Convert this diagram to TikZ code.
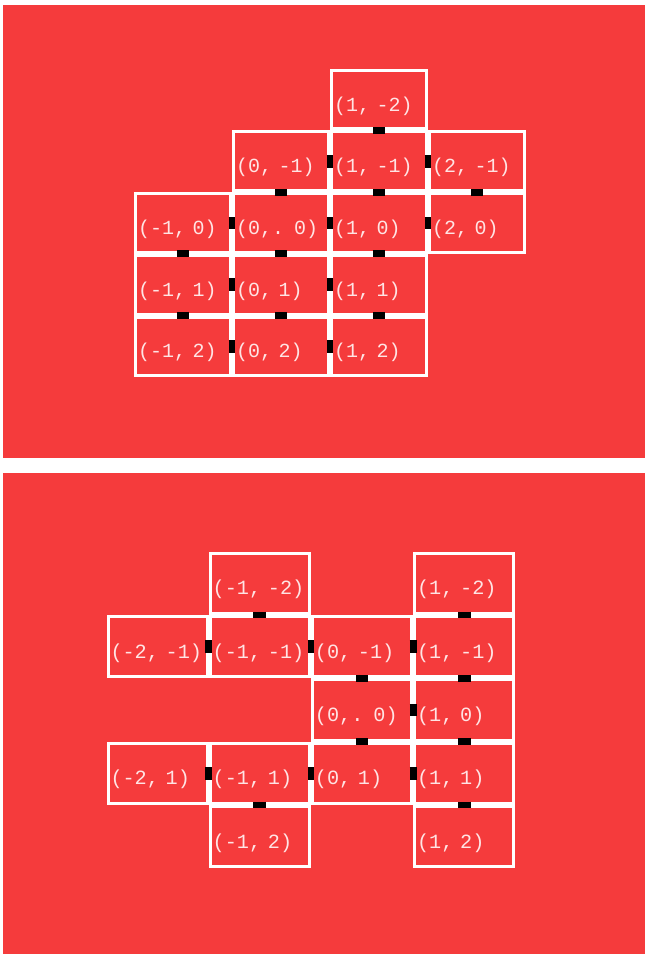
\documentclass[tikz,border=0pt]{standalone}
\usepackage{fontspec}
\newfontfamily\roomfont{Liberation Mono}
\definecolor{fondok}{RGB}{245, 59, 60}
\definecolor{textok}{RGB}{255, 228, 228}
\usetikzlibrary{positioning}

\begin{document}
\begin{tikzpicture}[x=1pt,y=-1pt,
    room/.style={draw=white,line width=3pt,outer sep=0pt,inner xsep=2.5pt,inner ysep=0pt,
                 text width=90pt,minimum height=58.7pt,align=left,text=textok,
                 font=\fontsize{20}{22}\roomfont,text height=23pt,text depth=0pt},
    door/.style={draw=black,line width=12.7pt,shorten <=-1.9pt,shorten >=-1.9pt}]
    \useasboundingbox (0,0) rectangle (645,954);
    \fill[fondok] (2.5,5) rectangle (645,457.5);
    \fill[fondok] (2.5,472.7) rectangle (645,954);

    % first map
    \begin{scope}[shift={(281,223)},x=98pt,y=-61.7pt]
      \foreach \i/\j/\txt in {1/-2/{(1, -2)}, 0/-1/{(0, -1)}, 1/-1/{(1, -1)}, 2/-1/{(2, -1)},
                             -1/0/{(-1, 0)}, 0/0/{(0,. 0)}, 1/0/{(1, 0)}, 2/0/{(2, 0)},
                             -1/1/{(-1, 1)}, 0/1/{(0, 1)}, 1/1/{(1, 1)},
                             -1/2/{(-1, 2)}, 0/2/{(0, 2)}, 1/2/{(1, 2)}}
        \node[room] (a\i r\j) at (\i,\j) {\txt};
      \foreach \a/\b in {0r-1/1r-1, 1r-1/2r-1, -1r0/0r0, 0r0/1r0, 1r0/2r0,
                         -1r1/0r1, 0r1/1r1, -1r2/0r2, 0r2/1r2,
                         1r-2/1r-1, 0r-1/0r0, 1r-1/1r0, 2r-1/2r0, -1r0/-1r1,
                         0r0/0r1, 1r0/1r1, -1r1/-1r2, 0r1/0r2, 1r1/1r2}
        \draw[door] (a\a) -- (a\b);
    \end{scope}

    % second map
    \begin{scope}[shift={(362,710)},x=102.2pt,y=-63.3pt,
                  room/.append style={text width=94.2pt,minimum height=60.3pt,
                                      font=\fontsize{20.2}{22}\roomfont}]
      \foreach \i/\j/\txt in {-1/-2/{(-1, -2)}, 1/-2/{(1, -2)},
                             -2/-1/{(-2, -1)}, -1/-1/{(-1, -1)}, 0/-1/{(0, -1)}, 1/-1/{(1, -1)},
                             0/0/{(0,. 0)}, 1/0/{(1, 0)},
                             -2/1/{(-2, 1)}, -1/1/{(-1, 1)}, 0/1/{(0, 1)}, 1/1/{(1, 1)},
                             -1/2/{(-1, 2)}, 1/2/{(1, 2)}}
        \node[room] (b\i r\j) at (\i,\j) {\txt};
      \foreach \a/\b in {-2r-1/-1r-1, -1r-1/0r-1, 0r-1/1r-1, 0r0/1r0,
                         -2r1/-1r1, -1r1/0r1, 0r1/1r1,
                         -1r-2/-1r-1, 1r-2/1r-1, 0r-1/0r0, 1r-1/1r0,
                         0r0/0r1, 1r0/1r1, -1r1/-1r2, 1r1/1r2}
        \draw[door] (b\a) -- (b\b);
    \end{scope}
\end{tikzpicture}
\end{document}
